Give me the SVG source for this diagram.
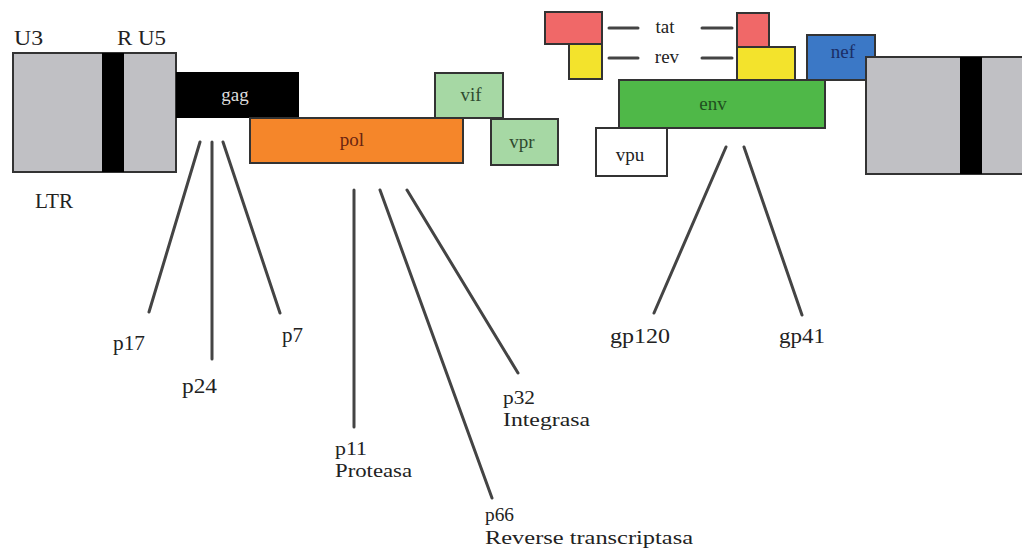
<svg xmlns="http://www.w3.org/2000/svg" width="1022" height="555" viewBox="0 0 1022 555">
<style>
text{font-family:"Liberation Serif","DejaVu Serif","Times New Roman",serif;font-size:21px;fill:#222}
.b{stroke:#333;stroke-width:2}
.ltr{fill:#c0c0c4}
.gene{text-anchor:middle;font-size:19px}
.sm{font-size:19px}
.ln{stroke:#444;stroke-width:3;fill:none;stroke-linecap:round}
</style>
<rect width="1022" height="555" fill="#fff"/>
<g id="ltr-left">
<rect class="b ltr" x="13" y="53" width="163" height="119"/>
<rect x="102" y="53" width="22" height="119" fill="#000"/>
<text x="14" y="45" textLength="29" lengthAdjust="spacingAndGlyphs">U3</text>
<text x="117" y="45" textLength="49" lengthAdjust="spacingAndGlyphs">R U5</text>
<text x="35" y="208" textLength="38" lengthAdjust="spacingAndGlyphs">LTR</text>
</g>
<g id="gag">
<rect x="176" y="72" width="123" height="46" fill="#000"/>
<text class="gene" x="235" y="101" style="fill:#ddd">gag</text>
</g>
<g id="pol">
<rect class="b" x="250" y="118" width="213" height="45" fill="#f5862a"/>
<text class="gene" x="352" y="146" style="fill:#6a2410">pol</text>
</g>
<g id="vif">
<rect class="b" x="435" y="73" width="68" height="45" fill="#a6d8a4"/>
<text class="gene" x="471" y="101" style="fill:#2f4a2f">vif</text>
</g>
<g id="vpr">
<rect class="b" x="491" y="119" width="67" height="46" fill="#a6d8a4"/>
<text class="gene" x="522" y="148" style="fill:#2f4a2f">vpr</text>
</g>
<g id="tat">
<rect class="b" x="545" y="12" width="57" height="32" fill="#f06868"/>
<rect class="b" x="737" y="13" width="32" height="34" fill="#f06868"/>
<text class="gene" x="665" y="33">tat</text>
</g>
<g id="rev">
<rect class="b" x="569" y="44" width="33" height="35" fill="#f3e32c"/>
<rect class="b" x="737" y="47" width="58" height="33" fill="#f3e32c"/>
<text class="gene" x="667" y="63">rev</text>
</g>
<g id="env">
<rect class="b" x="619" y="80" width="206" height="48" fill="#4fb848"/>
<text class="gene" x="713" y="110" style="fill:#1f4f1f">env</text>
</g>
<g id="vpu">
<rect class="b" x="596" y="128" width="71" height="48" fill="#fff"/>
<text class="gene" x="630" y="161">vpu</text>
</g>
<g id="nef">
<rect class="b" x="807" y="35" width="68" height="45" fill="#3b78c6"/>
<text class="gene" x="843" y="58" style="fill:#1a2e66">nef</text>
</g>
<g id="ltr-right">
<rect class="b ltr" x="866" y="57" width="170" height="117"/>
<rect x="960" y="57" width="22" height="117" fill="#000"/>
</g>
<g id="connectors">
<line class="ln" x1="609" y1="28" x2="638" y2="28"/>
<line class="ln" x1="702" y1="28" x2="732" y2="28"/>
<line class="ln" x1="609" y1="58" x2="638" y2="58"/>
<line class="ln" x1="702" y1="58" x2="732" y2="58"/>
<line class="ln" x1="200" y1="142" x2="149" y2="312"/>
<line class="ln" x1="212" y1="142" x2="212" y2="359"/>
<line class="ln" x1="223" y1="142" x2="280" y2="313"/>
<line class="ln" x1="354" y1="190" x2="354" y2="427"/>
<line class="ln" x1="380" y1="190" x2="492" y2="498"/>
<line class="ln" x1="407" y1="190" x2="518" y2="373"/>
<line class="ln" x1="726" y1="147" x2="654" y2="313"/>
<line class="ln" x1="744" y1="147" x2="802" y2="315"/>
</g>
<g id="labels">
<text x="113" y="350" textLength="32" lengthAdjust="spacingAndGlyphs">p17</text>
<text x="182" y="393" textLength="35" lengthAdjust="spacingAndGlyphs">p24</text>
<text x="282" y="342" textLength="21" lengthAdjust="spacingAndGlyphs">p7</text>
<text class="sm" x="335" y="455" textLength="32" lengthAdjust="spacingAndGlyphs">p11</text>
<text class="sm" x="335" y="477" textLength="77" lengthAdjust="spacingAndGlyphs">Proteasa</text>
<text class="sm" x="503" y="404" textLength="32" lengthAdjust="spacingAndGlyphs">p32</text>
<text class="sm" x="503" y="426" textLength="87" lengthAdjust="spacingAndGlyphs">Integrasa</text>
<text class="sm" x="485" y="521" textLength="29" lengthAdjust="spacingAndGlyphs">p66</text>
<text class="sm" x="485" y="544" textLength="208" lengthAdjust="spacingAndGlyphs">Reverse transcriptasa</text>
<text x="610" y="343" textLength="60" lengthAdjust="spacingAndGlyphs">gp120</text>
<text x="779" y="343" textLength="46" lengthAdjust="spacingAndGlyphs">gp41</text>
</g>
</svg>
